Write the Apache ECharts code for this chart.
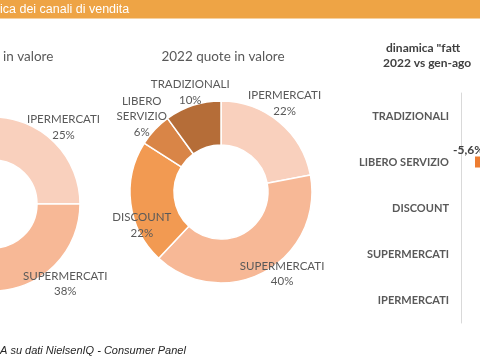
<!DOCTYPE html>
<html><head><meta charset="utf-8">
<script src="https://cdn.jsdelivr.net/npm/echarts@6/dist/echarts.min.js"></script>
<style>html,body{margin:0;padding:0;background:#fff}#c{width:480px;height:360px}</style>
</head><body><div id="c"></div>
<script>
// ---- data ----
const channels = ['IPERMERCATI','SUPERMERCATI','DISCOUNT','LIBERO SERVIZIO','TRADIZIONALI'];
const share2021 = [25, 38, 21, 6, 10];     // left donut (only first two visible)
const share2022 = [22, 40, 22, 6, 10];     // middle donut
const barCategories = ['TRADIZIONALI','LIBERO SERVIZIO','DISCOUNT','SUPERMERCATI','IPERMERCATI'];
const barValues = [1.5, -5.6, 3.9, 2.0, 0.8]; // only LIBERO SERVIZIO visible

// ---- styles ----
const sliceColors = ['#F9D0BD','#F7B896','#F29A52','#D98547','#B56D38'];
const midShift = [[-4,-7],[10,-11],[26,20],[-2,-3],[2,1]];
const leftShift = [[-3,-3],[34,-17],[0,0],[0,0],[0,0]];
const labelColor = '#595959';

function ringData(vals){
  return vals.map((v,i)=>({name:channels[i], value:v, itemStyle:{color:sliceColors[i]}}));
}
function overlayData(vals, showIdx){
  return vals.map((v,i)=>({name:channels[i], value:v,
    itemStyle:{color:'rgba(0,0,0,0)'},
    label:{show: showIdx ? showIdx(i) : true}}));
}
const pieLabel = {
  show:true, position:'inside', color:labelColor, fontFamily:'Lato', fontSize:11.5,
  lineHeight:15.5, align:'center',
  formatter: p => p.name.replace(' ','\n') + '\n' + p.value + '%'
};

const chart = echarts.init(document.getElementById('c'), null, {renderer:'canvas'});
chart.setOption({
  animation:false,
  textStyle:{fontFamily:'Lato'},
  graphic:[
    {type:'rect', shape:{x:0,y:0,width:480,height:18.5}, style:{fill:'#EEA445'}},
    {type:'text', x:0, y:10, style:{text:'ica dei canali di vendita', fill:'#fff', font:'12.5px "Liberation Sans"', textVerticalAlign:'middle'}},
    {type:'text', x:3, y:57, style:{text:'in valore', fill:'#595959', font:'13.5px Lato', textVerticalAlign:'middle'}},
    {type:'text', x:223, y:57, style:{text:'2022 quote in valore', fill:'#595959', font:'13.5px Lato', textAlign:'center', textVerticalAlign:'middle'}},
    {type:'text', x:386, y:48, style:{text:'dinamica "fatt', fill:'#404040', font:'bold 12px Lato', textVerticalAlign:'middle'}},
    {type:'text', x:383, y:63, style:{text:'2022 vs gen-ago', fill:'#404040', font:'bold 12px Lato', textVerticalAlign:'middle'}},
    {type:'text', x:0, y:351, style:{text:'A su dati NielsenIQ - Consumer Panel', fill:'#262626', font:'italic 11px "Liberation Sans"', textVerticalAlign:'middle'}}
  ],
  grid:{left:461, top:93, bottom:37, width:120, containLabel:false, outerBoundsMode:'none'},
  xAxis:{type:'value', min:-7, max:5, show:false},
  yAxis:{type:'category', data:barCategories, inverse:true,
    axisLine:{show:true, onZero:false, lineStyle:{color:'#D9D9D9', width:1}},
    axisTick:{show:false},
    axisLabel:{color:'#595959', fontWeight:'bold', fontSize:11, fontFamily:'Lato', margin:12},
    splitLine:{show:false}},
  series:[
    {type:'pie', center:[-7,204], radius:[44,87], startAngle:90, clockwise:true, silent:true,
      label:{show:false}, labelLine:{show:false},
      itemStyle:{borderColor:'#fff', borderWidth:1.5},
      data:ringData(share2021)},
    {type:'pie', center:[-7,204], radius:[91,111], startAngle:90, clockwise:true, silent:true,
      label:pieLabel, labelLine:{show:false}, itemStyle:{borderWidth:0},
      labelLayout: p => ({dx:leftShift[p.dataIndex][0], dy:leftShift[p.dataIndex][1]}),
      data:overlayData(share2021, i => i < 2)},
    {type:'pie', center:[221,192], radius:[47,91], startAngle:90, clockwise:true, silent:true,
      label:{show:false}, labelLine:{show:false},
      itemStyle:{borderColor:'#fff', borderWidth:1.5},
      data:ringData(share2022)},
    {type:'pie', center:[221,192], radius:[93,113], startAngle:90, clockwise:true, silent:true,
      label:pieLabel, labelLine:{show:false}, itemStyle:{borderWidth:0},
      labelLayout: p => ({dx:midShift[p.dataIndex][0], dy:midShift[p.dataIndex][1]}),
      data:overlayData(share2022)},
    {type:'bar', data:barValues, barWidth:11, silent:true,
      itemStyle:{color:'#ED7D31'},
      label:{show:true, position:'left', distance:0, offset:[9,-12], color:'#404040',
        fontWeight:'bold', fontSize:12, fontFamily:'Lato',
        formatter: p => String(p.value).replace('.',',') + '%'}}
  ]
});
</script></body></html>
